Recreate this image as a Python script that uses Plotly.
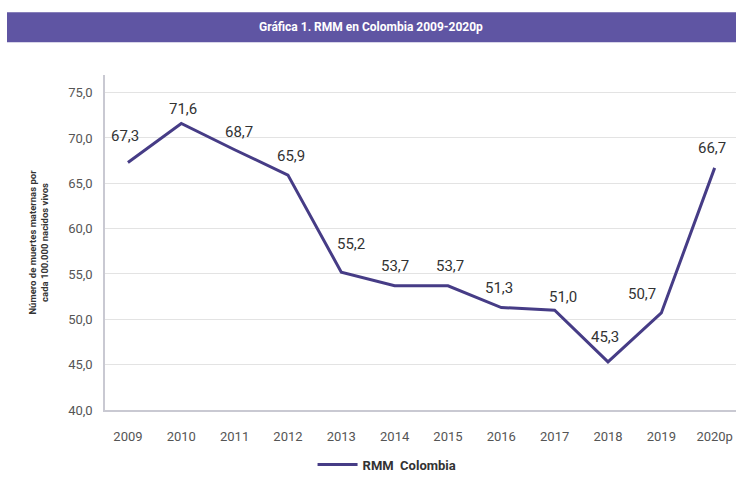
import plotly.graph_objects as go

# Razón de mortalidad materna (RMM) en Colombia, por 100.000 nacidos vivos
years = ["2009", "2010", "2011", "2012", "2013", "2014", "2015",
         "2016", "2017", "2018", "2019", "2020p"]
rmm = [67.3, 71.6, 68.7, 65.9, 55.2, 53.7, 53.7, 51.3, 51.0, 45.3, 50.7, 66.7]
y_ticks = [40, 45, 50, 55, 60, 65, 70, 75]

# label nudges (px) so the value labels sit clear of the line
label_dx = [-3, 2, 4, 3, 10, 0, 2, -2, 8, -3, -19, -3]
label_dy = [26, 14, 18, 19, 28, 20, 20, 20, 13, 25, 19, 20]

FONT = "Roboto, Liberation Sans Narrow, sans-serif"
LINE_COLOR = "#463c86"
BAND_COLOR = "#5f55a3"

fig = go.Figure()
fig.add_trace(go.Scatter(
    x=years, y=rmm, mode="lines", name="RMM  Colombia",
    line=dict(color=LINE_COLOR, width=3),
    hoverinfo="skip",
))

# value labels; category index used as x so "2009" etc. are not read as numbers
for i, (v, dx, dy) in enumerate(zip(rmm, label_dx, label_dy)):
    fig.add_annotation(
        x=i, y=v, xref="x", yref="y",
        text=f"{v:.1f}".replace(".", ","),
        showarrow=False, xshift=dx, yshift=dy,
        font=dict(family=FONT, size=15, color="#333333"),
    )

# Title band
fig.add_shape(type="rect", xref="paper", yref="paper",
              x0=-0.1553, x1=1.0, y0=1.0979, y1=1.187,
              fillcolor=BAND_COLOR, line=dict(width=0), layer="above")
fig.add_annotation(
    xref="paper", yref="paper", x=0.4216, y=1.1424,
    text="<b>Gráfica 1. RMM en Colombia 2009-2020p</b>",
    showarrow=False, xanchor="center", yanchor="middle",
    font=dict(family=FONT, size=12, color="white"),
)

# Y-axis title
fig.add_annotation(
    xref="paper", yref="paper", x=-0.106, y=0.5,
    text="<b>Número de muertes maternas por<br>cada 100.000 nacidos vivos</b>",
    showarrow=False, textangle=-90, xanchor="center", yanchor="middle",
    font=dict(family=FONT, size=9.5, color="#333333"),
)

fig.update_layout(
    width=736, height=480,
    margin=dict(l=105, r=0, t=75, b=68),
    paper_bgcolor="white", plot_bgcolor="white",
    font=dict(family=FONT, color="#555555"),
    showlegend=True,
    legend=dict(
        orientation="h", x=0.447, xanchor="center", y=-0.163, yanchor="middle",
        font=dict(family=FONT, size=13, color="#333333", weight="bold"),
        itemwidth=40,
    ),
)
fig.update_xaxes(
    type="category", range=[-0.43, 11.4],
    showgrid=False, showline=True, linecolor="#c9c9d2", linewidth=1.5,
    ticks="", ticklabelstandoff=14,
    tickfont=dict(family=FONT, size=13, color="#555555"),
)
fig.update_yaxes(
    range=[40, 76.94], tickvals=y_ticks,
    ticktext=[f"{t:.1f}".replace(".", ",") for t in y_ticks],
    showgrid=True, gridcolor="#e3e3e3", gridwidth=1,
    showline=True, linecolor="#c9c9d2", linewidth=1.5,
    zeroline=False, ticks="", ticklabelstandoff=8,
    tickfont=dict(family=FONT, size=13, color="#555555"),
)

fig.write_html("out.html")
